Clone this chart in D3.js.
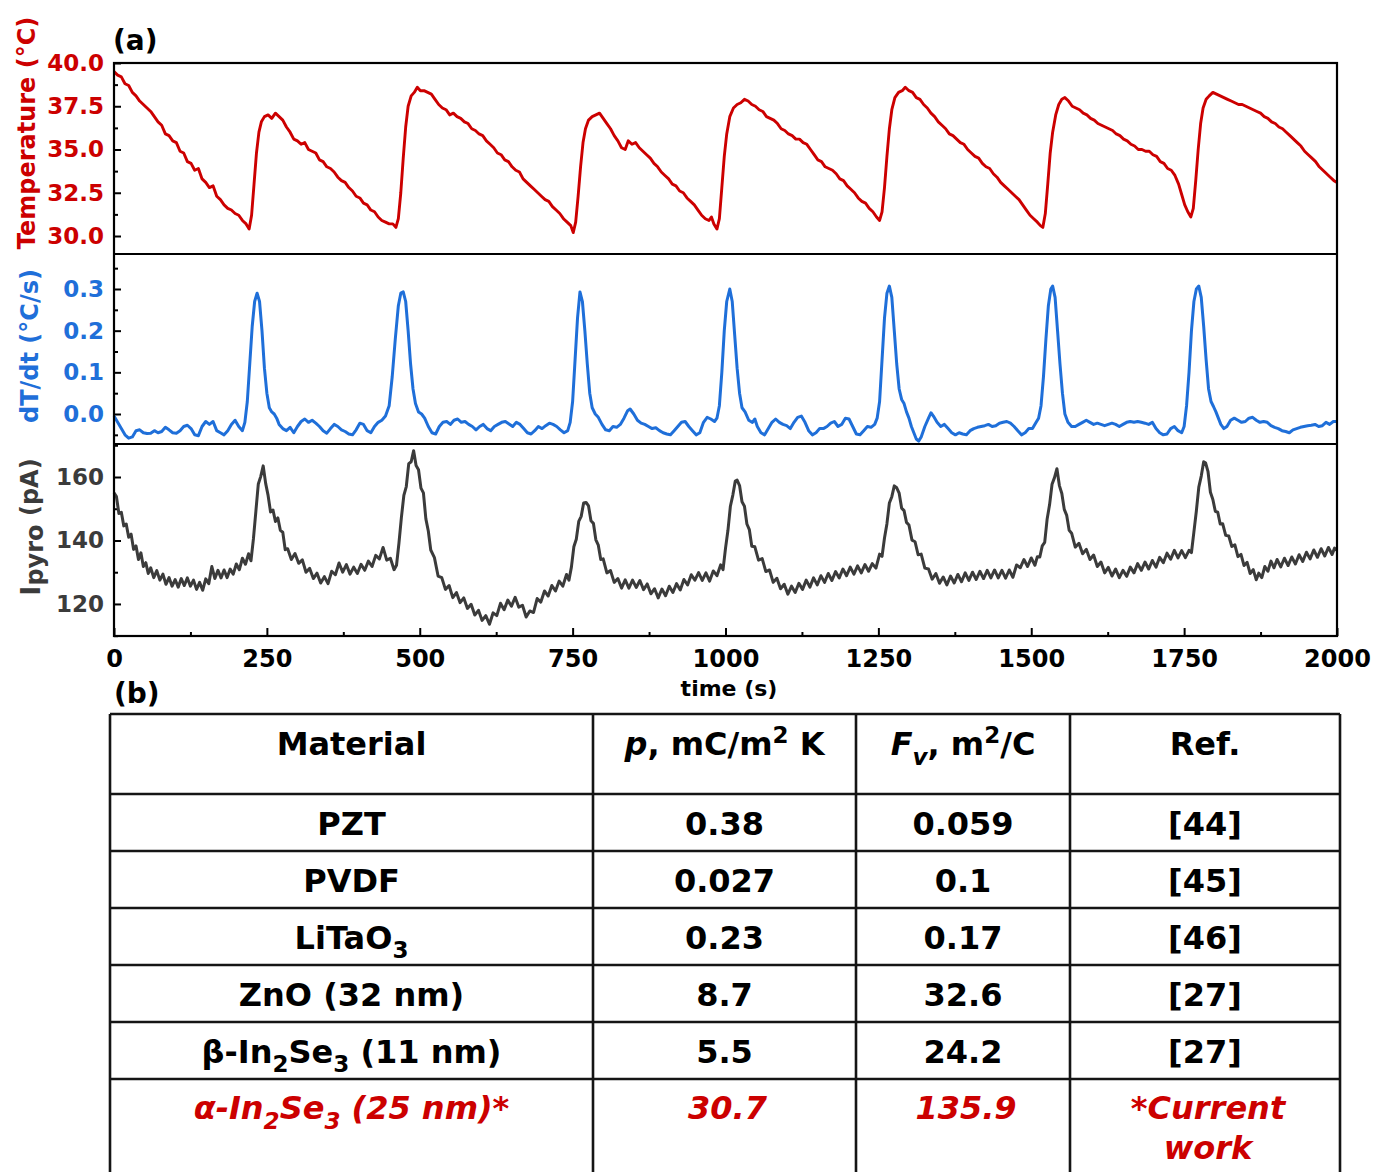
<!DOCTYPE html>
<html>
<head>
<meta charset="utf-8">
<script src="https://cdn.jsdelivr.net/npm/d3@7"></script>
<style>
  body { margin: 0; background: #fff; }
  svg text { font-family: 'DejaVu Sans', sans-serif; font-weight: bold; }
</style>
</head>
<body>
<div id="chart"></div>
<script>
// ---- data ----
const timeTicks = [0, 250, 500, 750, 1000, 1250, 1500, 1750, 2000];
const tempTicks = [30, 32.5, 35, 37.5, 40];
const rateTicks = [0, 0.1, 0.2, 0.3];
const currentTicks = [120, 140, 160];

// temperature (°C) vs time (s)
const tempSeries = [[0,39.5],[6,39.3],[12,39.2],[18,38.8],[24,38.7],[30,38.3],[36,38.1],[42,37.8],[48,37.6],[54,37.4],[60,37.2],[66,36.9],[72,36.6],[78,36.4],[84,35.9],[90,35.8],[96,35.5],[102,35.4],[108,34.9],[114,34.8],[120,34.3],[126,34.2],[132,33.8],[138,33.9],[144,33.3],[150,33.1],[156,32.8],[162,32.9],[168,32.3],[174,32.1],[180,31.8],[186,31.6],[192,31.5],[198,31.3],[204,31.2],[210,30.9],[216,30.7],[221,30.4],[225,31.2],[229,33.0],[233,34.8],[237,36.0],[241,36.6],[246,36.9],[252,37.0],[258,36.8],[264,37.1],[270,36.9],[276,36.7],[282,36.3],[288,36.0],[294,35.6],[300,35.5],[306,35.3],[312,35.4],[318,35.0],[324,34.9],[330,34.8],[336,34.4],[342,34.3],[348,34.0],[354,33.9],[360,33.7],[366,33.4],[372,33.2],[378,33.1],[384,32.8],[390,32.6],[396,32.3],[402,32.2],[408,31.9],[414,31.8],[420,31.5],[426,31.4],[432,31.1],[438,30.9],[444,30.8],[450,30.7],[456,30.7],[461,30.5],[465,31.0],[469,32.5],[473,34.5],[477,36.3],[481,37.5],[486,38.1],[491,38.3],[496,38.6],[501,38.4],[507,38.4],[513,38.3],[519,38.2],[525,37.9],[531,37.6],[537,37.4],[543,37.3],[549,37.0],[555,37.1],[561,36.9],[567,36.8],[573,36.6],[579,36.5],[585,36.2],[591,36.1],[597,35.9],[603,35.8],[609,35.5],[615,35.3],[621,35.1],[627,34.8],[633,34.7],[639,34.4],[645,34.3],[651,34.0],[657,33.8],[663,33.7],[669,33.3],[675,33.1],[681,32.9],[687,32.7],[693,32.5],[699,32.3],[705,32.1],[711,32.0],[717,31.7],[723,31.5],[729,31.3],[735,31.0],[741,30.8],[747,30.6],[751,30.2],[755,30.8],[759,32.3],[763,34.0],[767,35.4],[771,36.2],[776,36.7],[782,36.9],[788,37.0],[794,37.1],[800,36.8],[806,36.5],[812,36.2],[818,35.8],[824,35.5],[830,35.1],[836,35.0],[841,35.5],[847,35.3],[853,35.4],[859,35.1],[865,34.9],[871,34.7],[877,34.5],[883,34.2],[889,34.0],[895,33.7],[901,33.5],[907,33.3],[913,33.0],[919,32.9],[925,32.6],[931,32.5],[937,32.2],[943,32.0],[949,31.8],[955,31.5],[961,31.2],[967,31.0],[973,30.9],[977,31.1],[981,30.7],[986,30.4],[990,31.0],[994,32.8],[998,34.6],[1002,35.9],[1007,36.9],[1013,37.4],[1019,37.6],[1025,37.7],[1031,37.9],[1037,37.8],[1043,37.6],[1049,37.5],[1055,37.3],[1061,37.2],[1067,36.9],[1073,36.8],[1079,36.7],[1085,36.5],[1091,36.2],[1097,36.1],[1103,35.9],[1109,35.8],[1115,35.6],[1121,35.6],[1127,35.4],[1133,35.3],[1139,35.0],[1145,34.7],[1151,34.4],[1157,34.3],[1163,34.0],[1169,33.9],[1175,33.8],[1181,33.6],[1187,33.3],[1193,33.2],[1199,32.9],[1205,32.7],[1211,32.5],[1217,32.2],[1223,32.0],[1229,31.9],[1235,31.6],[1241,31.4],[1247,31.1],[1252,30.9],[1256,31.4],[1260,32.8],[1264,34.6],[1268,36.2],[1272,37.3],[1277,38.0],[1283,38.3],[1289,38.4],[1294,38.6],[1300,38.4],[1306,38.3],[1312,38.0],[1318,37.9],[1324,37.6],[1330,37.4],[1336,37.1],[1342,36.9],[1348,36.6],[1354,36.4],[1360,36.2],[1366,35.9],[1372,35.8],[1378,35.6],[1384,35.4],[1390,35.3],[1396,35.0],[1402,34.8],[1408,34.6],[1414,34.5],[1420,34.2],[1426,34.0],[1432,33.9],[1438,33.6],[1444,33.4],[1450,33.1],[1456,32.9],[1462,32.7],[1468,32.5],[1474,32.3],[1480,32.1],[1486,31.8],[1492,31.5],[1498,31.2],[1504,31.0],[1510,30.8],[1515,30.6],[1519,30.5],[1523,31.3],[1527,33.0],[1531,34.8],[1535,36.0],[1540,37.0],[1545,37.6],[1550,37.9],[1555,38.0],[1561,37.8],[1567,37.5],[1573,37.4],[1579,37.3],[1585,37.1],[1591,37.0],[1597,36.8],[1603,36.7],[1609,36.5],[1615,36.4],[1621,36.3],[1627,36.2],[1633,36.1],[1639,35.9],[1645,35.8],[1651,35.6],[1657,35.5],[1663,35.3],[1669,35.2],[1675,35.0],[1681,35.0],[1687,34.9],[1693,34.9],[1699,34.7],[1705,34.6],[1711,34.3],[1717,34.2],[1723,33.9],[1729,33.8],[1735,33.5],[1741,33.0],[1746,32.4],[1751,31.8],[1756,31.4],[1761,31.1],[1765,31.6],[1769,33.2],[1773,35.0],[1777,36.5],[1781,37.4],[1786,37.9],[1791,38.1],[1797,38.3],[1803,38.2],[1809,38.1],[1815,38.0],[1821,37.9],[1827,37.8],[1833,37.7],[1839,37.6],[1845,37.6],[1851,37.5],[1857,37.4],[1863,37.3],[1869,37.2],[1875,37.1],[1881,36.9],[1887,36.8],[1893,36.6],[1899,36.5],[1905,36.3],[1911,36.2],[1917,36.0],[1923,35.8],[1929,35.6],[1935,35.4],[1941,35.2],[1947,34.9],[1953,34.7],[1959,34.5],[1965,34.3],[1971,34.0],[1977,33.8],[1983,33.6],[1989,33.4],[1995,33.2],[2000,33.1]];

// dT/dt (°C/s) vs time (s)
const rateSeries = [[0,-0.005],[6,-0.02],[12,-0.035],[18,-0.05],[24,-0.058],[30,-0.055],[36,-0.04],[42,-0.038],[48,-0.045],[54,-0.047],[60,-0.046],[66,-0.04],[72,-0.045],[78,-0.042],[84,-0.032],[90,-0.038],[96,-0.045],[102,-0.046],[108,-0.04],[114,-0.03],[120,-0.027],[126,-0.035],[132,-0.05],[138,-0.052],[144,-0.03],[150,-0.018],[156,-0.025],[162,-0.018],[168,-0.04],[174,-0.045],[180,-0.05],[186,-0.04],[192,-0.025],[198,-0.015],[204,-0.03],[210,-0.04],[214,-0.02],[218,0.03],[222,0.12],[226,0.21],[230,0.27],[234,0.29],[238,0.27],[242,0.2],[246,0.11],[250,0.05],[254,0.015],[258,0.005],[262,0.0],[266,-0.01],[270,-0.025],[276,-0.035],[282,-0.04],[288,-0.032],[294,-0.045],[300,-0.03],[306,-0.018],[312,-0.012],[318,-0.02],[324,-0.015],[330,-0.022],[336,-0.03],[342,-0.04],[348,-0.046],[354,-0.035],[360,-0.025],[366,-0.03],[372,-0.038],[378,-0.042],[384,-0.048],[390,-0.05],[396,-0.038],[402,-0.022],[408,-0.025],[414,-0.04],[420,-0.045],[426,-0.03],[432,-0.02],[438,-0.015],[444,-0.005],[450,0.02],[455,0.09],[460,0.18],[465,0.26],[469,0.29],[473,0.293],[477,0.27],[481,0.2],[485,0.12],[489,0.06],[493,0.025],[498,0.005],[503,0.0],[508,-0.01],[514,-0.03],[520,-0.045],[526,-0.048],[532,-0.03],[538,-0.02],[544,-0.018],[550,-0.025],[556,-0.015],[562,-0.012],[568,-0.02],[574,-0.018],[580,-0.025],[586,-0.03],[592,-0.038],[598,-0.03],[604,-0.025],[610,-0.035],[616,-0.04],[622,-0.03],[628,-0.025],[634,-0.02],[640,-0.018],[646,-0.024],[652,-0.03],[658,-0.02],[664,-0.025],[670,-0.035],[676,-0.045],[682,-0.048],[688,-0.04],[694,-0.03],[700,-0.035],[706,-0.028],[712,-0.022],[718,-0.025],[724,-0.03],[730,-0.038],[736,-0.045],[742,-0.04],[746,-0.02],[750,0.03],[754,0.13],[758,0.23],[762,0.293],[766,0.27],[770,0.2],[774,0.12],[778,0.05],[782,0.015],[787,0.0],[792,-0.008],[798,-0.025],[804,-0.038],[810,-0.04],[816,-0.03],[822,-0.032],[828,-0.025],[834,-0.01],[840,0.008],[844,0.012],[850,0.0],[856,-0.015],[862,-0.022],[868,-0.025],[874,-0.03],[880,-0.035],[886,-0.033],[892,-0.04],[898,-0.045],[904,-0.048],[910,-0.05],[916,-0.04],[922,-0.03],[928,-0.02],[934,-0.018],[940,-0.03],[946,-0.04],[952,-0.05],[958,-0.045],[964,-0.02],[970,-0.008],[976,-0.012],[982,-0.018],[986,-0.01],[990,0.02],[994,0.1],[998,0.2],[1002,0.27],[1007,0.30],[1011,0.27],[1015,0.19],[1019,0.11],[1023,0.05],[1027,0.015],[1032,0.005],[1038,-0.015],[1044,-0.02],[1048,-0.012],[1052,-0.03],[1058,-0.045],[1064,-0.05],[1070,-0.035],[1076,-0.02],[1082,-0.012],[1088,-0.02],[1094,-0.025],[1100,-0.028],[1106,-0.035],[1112,-0.02],[1118,-0.008],[1124,-0.005],[1130,-0.02],[1136,-0.04],[1142,-0.05],[1148,-0.045],[1154,-0.035],[1160,-0.035],[1166,-0.03],[1172,-0.022],[1178,-0.018],[1184,-0.03],[1190,-0.025],[1196,-0.01],[1202,-0.012],[1208,-0.03],[1214,-0.048],[1220,-0.05],[1226,-0.04],[1232,-0.03],[1238,-0.032],[1244,-0.025],[1248,-0.01],[1252,0.03],[1256,0.13],[1260,0.23],[1264,0.29],[1268,0.307],[1272,0.28],[1276,0.2],[1280,0.12],[1284,0.06],[1288,0.035],[1292,0.025],[1296,0.005],[1300,-0.01],[1304,-0.03],[1308,-0.045],[1312,-0.06],[1316,-0.065],[1320,-0.055],[1326,-0.03],[1332,-0.01],[1336,0.003],[1340,-0.005],[1346,-0.02],[1352,-0.03],[1358,-0.025],[1364,-0.035],[1370,-0.045],[1376,-0.05],[1382,-0.045],[1388,-0.048],[1394,-0.05],[1400,-0.04],[1406,-0.035],[1412,-0.032],[1418,-0.03],[1424,-0.028],[1430,-0.025],[1436,-0.03],[1442,-0.028],[1448,-0.022],[1454,-0.02],[1460,-0.018],[1466,-0.022],[1472,-0.03],[1478,-0.04],[1484,-0.05],[1490,-0.045],[1496,-0.035],[1502,-0.035],[1508,-0.02],[1512,-0.01],[1516,0.02],[1520,0.09],[1524,0.18],[1528,0.26],[1532,0.3],[1535,0.307],[1539,0.28],[1543,0.2],[1547,0.12],[1551,0.05],[1555,0.0],[1560,-0.02],[1566,-0.03],[1572,-0.03],[1578,-0.025],[1584,-0.02],[1590,-0.015],[1596,-0.02],[1602,-0.025],[1608,-0.022],[1614,-0.025],[1620,-0.028],[1626,-0.025],[1632,-0.022],[1638,-0.025],[1644,-0.03],[1650,-0.025],[1656,-0.02],[1662,-0.018],[1668,-0.02],[1674,-0.018],[1680,-0.02],[1686,-0.022],[1692,-0.025],[1698,-0.02],[1704,-0.035],[1710,-0.045],[1716,-0.05],[1722,-0.048],[1728,-0.035],[1734,-0.03],[1740,-0.04],[1746,-0.045],[1750,-0.03],[1754,0.02],[1758,0.1],[1762,0.2],[1766,0.27],[1770,0.3],[1774,0.307],[1778,0.28],[1782,0.21],[1786,0.13],[1790,0.06],[1794,0.03],[1798,0.018],[1802,0.005],[1806,-0.01],[1810,-0.025],[1815,-0.035],[1820,-0.03],[1826,-0.015],[1832,-0.01],[1838,-0.015],[1844,-0.02],[1850,-0.018],[1856,-0.01],[1862,-0.008],[1868,-0.015],[1874,-0.02],[1880,-0.018],[1886,-0.02],[1892,-0.028],[1898,-0.032],[1904,-0.035],[1910,-0.04],[1916,-0.042],[1922,-0.045],[1928,-0.038],[1934,-0.035],[1940,-0.032],[1946,-0.03],[1952,-0.028],[1958,-0.027],[1964,-0.025],[1970,-0.03],[1976,-0.028],[1982,-0.02],[1988,-0.025],[1994,-0.018],[2000,-0.018]];

// pyroelectric current (pA) vs time (s)
const currentSeries = [[0,155.0],[4,153.8],[8,148.5],[12,148.9],[16,144.6],[20,145.2],[24,141.0],[28,142.0],[32,137.2],[36,138.3],[40,134.0],[44,136.1],[48,131.8],[52,133.0],[56,129.6],[60,131.4],[65,128.3],[70,130.5],[75,127.5],[80,129.4],[85,126.2],[90,128.3],[95,125.6],[100,127.7],[105,125.3],[110,128.0],[115,125.8],[120,128.2],[125,125.6],[130,127.5],[135,124.6],[140,126.8],[145,124.3],[150,127.9],[155,126.4],[160,131.8],[165,128.0],[170,130.6],[175,128.2],[180,130.7],[185,128.3],[190,131.0],[195,129.4],[200,132.6],[205,130.8],[210,134.4],[215,132.5],[220,135.8],[224,133.6],[228,140.5],[232,149.2],[236,157.8],[240,160.2],[244,163.5],[248,158.0],[252,154.2],[256,149.0],[260,149.6],[264,146.0],[268,147.1],[272,143.2],[276,142.6],[280,137.1],[284,137.4],[290,134.0],[296,135.9],[302,132.8],[308,133.9],[314,130.0],[320,131.2],[326,128.0],[332,129.7],[338,126.6],[344,128.6],[350,126.4],[356,130.3],[362,129.2],[368,132.9],[374,130.0],[380,132.4],[386,129.4],[392,131.6],[398,129.6],[404,132.5],[410,130.6],[416,133.5],[422,131.8],[428,135.3],[434,134.2],[440,137.8],[446,133.8],[452,134.4],[458,130.8],[462,132.2],[466,139.2],[470,147.3],[474,154.2],[478,157.0],[482,164.2],[486,164.8],[490,168.3],[494,163.6],[498,162.3],[502,156.5],[506,155.0],[510,146.8],[514,143.0],[518,137.0],[524,134.6],[530,128.8],[536,128.3],[542,124.6],[548,125.8],[554,122.0],[560,123.6],[566,120.4],[572,121.9],[578,118.6],[584,119.9],[590,116.5],[596,118.0],[602,114.8],[608,116.3],[614,113.6],[620,117.2],[626,116.3],[632,120.2],[638,118.2],[644,121.2],[650,119.3],[656,122.1],[662,119.0],[668,119.6],[674,115.9],[680,117.8],[686,117.3],[692,121.7],[698,120.6],[704,124.1],[710,122.5],[716,125.8],[722,124.1],[728,127.2],[734,125.6],[740,129.3],[744,127.5],[748,131.6],[752,138.0],[756,140.4],[760,146.0],[764,147.6],[768,151.8],[772,152.0],[776,150.9],[780,146.2],[784,145.4],[788,140.2],[792,138.5],[796,134.0],[800,134.2],[806,129.8],[812,130.5],[818,126.8],[824,128.0],[830,125.0],[836,127.6],[842,125.0],[848,127.5],[854,125.2],[860,127.4],[866,124.5],[872,126.3],[878,123.2],[884,124.8],[890,121.9],[896,124.7],[902,122.6],[908,125.6],[914,123.6],[920,126.4],[926,124.4],[932,127.7],[938,126.0],[944,129.2],[950,127.5],[956,129.9],[962,127.4],[968,129.8],[974,127.2],[980,130.4],[986,128.9],[992,132.3],[996,130.8],[1000,137.5],[1004,143.2],[1008,150.8],[1012,154.3],[1016,158.7],[1019,159.0],[1023,157.3],[1027,152.2],[1031,150.8],[1035,145.2],[1039,143.4],[1043,138.2],[1048,138.0],[1054,133.8],[1060,134.3],[1066,130.2],[1072,130.7],[1078,126.8],[1084,128.1],[1090,124.8],[1096,126.2],[1102,123.1],[1108,125.6],[1114,123.6],[1120,126.5],[1126,124.6],[1132,127.5],[1138,125.3],[1144,128.2],[1150,126.0],[1156,128.9],[1162,126.8],[1168,129.6],[1174,127.4],[1180,130.2],[1186,128.2],[1192,131.0],[1198,128.9],[1204,131.6],[1210,129.4],[1216,132.0],[1222,129.8],[1228,132.4],[1234,130.3],[1240,132.7],[1246,131.3],[1252,135.7],[1256,135.0],[1260,140.8],[1264,145.3],[1268,151.8],[1272,153.8],[1276,157.2],[1280,156.6],[1284,154.9],[1288,150.2],[1292,149.4],[1296,145.7],[1300,144.9],[1305,140.1],[1310,139.6],[1315,135.5],[1320,135.7],[1326,131.3],[1332,131.0],[1338,127.8],[1344,129.6],[1350,126.5],[1356,128.5],[1362,126.0],[1368,128.8],[1374,126.6],[1380,129.3],[1386,127.0],[1392,129.8],[1398,127.4],[1404,130.0],[1410,127.7],[1416,130.3],[1422,128.0],[1428,130.6],[1434,128.2],[1440,130.7],[1446,128.2],[1452,130.6],[1458,128.1],[1464,130.7],[1470,128.4],[1476,132.3],[1482,131.4],[1488,134.0],[1494,131.8],[1500,134.5],[1506,132.2],[1510,134.9],[1514,134.8],[1518,138.3],[1522,139.4],[1526,146.8],[1530,151.3],[1534,157.7],[1538,159.8],[1542,162.6],[1546,157.3],[1550,154.8],[1554,149.8],[1558,147.9],[1562,143.2],[1566,142.3],[1572,137.9],[1578,139.1],[1584,135.8],[1590,137.2],[1596,134.0],[1602,135.4],[1608,131.8],[1614,133.2],[1620,129.8],[1626,131.5],[1632,128.8],[1638,131.0],[1644,128.3],[1650,130.6],[1656,128.7],[1662,131.6],[1668,129.8],[1674,132.7],[1680,130.6],[1686,133.2],[1692,131.0],[1698,133.7],[1704,131.6],[1710,134.7],[1716,133.0],[1722,136.0],[1728,134.1],[1734,136.9],[1740,134.5],[1746,136.8],[1752,134.6],[1758,136.9],[1762,136.2],[1766,142.7],[1770,149.3],[1774,156.8],[1778,160.3],[1782,164.8],[1785,164.5],[1789,161.8],[1793,155.2],[1797,152.9],[1801,149.2],[1805,148.9],[1809,145.2],[1813,145.3],[1818,141.6],[1823,141.4],[1828,138.1],[1833,138.6],[1838,134.9],[1843,135.6],[1848,132.1],[1853,133.1],[1858,129.6],[1863,130.8],[1868,127.6],[1872,129.7],[1877,128.3],[1882,131.8],[1887,130.3],[1892,133.5],[1897,131.4],[1902,134.0],[1908,131.7],[1914,134.4],[1920,132.1],[1926,134.8],[1932,132.6],[1938,135.5],[1944,133.4],[1950,136.3],[1956,134.2],[1962,137.0],[1968,134.7],[1974,137.4],[1980,135.1],[1986,137.8],[1992,135.6],[1996,137.6],[2000,136.9]];

// table (b): ~ toggles italics, _x subscript, ^x superscript, | line break
const tableHeader = ['Material', '~p~, mC/m^2 K', '~F_v~, m^2/C', 'Ref.'];
const materials = ['PZT', 'PVDF', 'LiTaO_3', 'ZnO (32 nm)', 'β-In_2Se_3 (11 nm)', 'α-In_2Se_3 (25 nm)*'];
const pyroCoeff = ['0.38', '0.027', '0.23', '8.7', '5.5', '30.7'];
const fomFv = ['0.059', '0.1', '0.17', '32.6', '24.2', '135.9'];
const refs = ['[44]', '[45]', '[46]', '[27]', '[27]', '*Current|work'];

// ---- layout ----
const W = 1377, H = 1172;
const RED = '#cc0000', BLUE = '#1f6fd9', GRAY = '#3b3b3b';

const svg = d3.select('#chart').append('svg')
    .attr('width', W).attr('height', H)
    .style('background', '#fff');

const x = d3.scaleLinear().domain([0, 2000]).range([114, 1337]);

const panels = [
    {data: tempSeries, top: 63, bottom: 254, domain: [28.96, 40], ticks: tempTicks, minor: [31.25, 33.75, 36.25, 38.75],
     fmt: d3.format('.1f'), color: RED, width: 2.9, title: 'Temperature (°C)', titleY: 133},
    {data: rateSeries, top: 254, bottom: 444, domain: [-0.072, 0.384], ticks: rateTicks, minor: [-0.05, 0.05, 0.15, 0.25, 0.35],
     fmt: d3.format('.1f'), color: BLUE, width: 3, title: 'dT/dt (°C/s)', titleY: 346},
    {data: currentSeries, top: 444, bottom: 636, domain: [109.9, 170.4], ticks: currentTicks, minor: [110, 130, 150, 170],
     fmt: d3.format('d'), color: GRAY, width: 3, title: null, titleY: 527}
];

panels.forEach(p => {
    const y = d3.scaleLinear().domain(p.domain).range([p.bottom, p.top]);

    const major = svg.append('g')
        .attr('transform', `translate(${x(0)},0)`)
        .call(d3.axisLeft(y).tickValues(p.ticks).tickFormat(p.fmt).tickSizeInner(-7).tickSizeOuter(0).tickPadding(10));
    major.select('.domain').remove();
    major.selectAll('line').attr('stroke', '#000').attr('stroke-width', 2);
    major.selectAll('text').attr('font-size', 23).attr('fill', p.color)
        .attr('font-family', "'DejaVu Sans', sans-serif").attr('font-weight', 'bold');

    const minor = svg.append('g')
        .attr('transform', `translate(${x(0)},0)`)
        .call(d3.axisLeft(y).tickValues(p.minor).tickFormat('').tickSizeInner(-4).tickSizeOuter(0));
    minor.select('.domain').remove();
    minor.selectAll('line').attr('stroke', '#000').attr('stroke-width', 2);

    const line = d3.line().x(d => x(d[0])).y(d => y(d[1]));
    svg.append('path')
        .datum(p.data)
        .attr('d', line)
        .attr('fill', 'none')
        .attr('stroke', p.color)
        .attr('stroke-width', p.width)
        .attr('stroke-linejoin', 'round');

    // axis title
    const t = svg.append('text')
        .attr('transform', `translate(${p === panels[0] ? 27 : 30},${p.titleY}) rotate(-90)`)
        .attr('text-anchor', 'middle')
        .attr('dominant-baseline', 'central')
        .attr('font-size', 24)
        .attr('fill', p.color);
    if (p.title) {
        t.text(p.title);
    } else {
        t.append('tspan').attr('font-size', 27).text('I');
        t.append('tspan').attr('dy', 5).text('pyro');
        t.append('tspan').attr('dy', -5).text(' (pA)');
    }
});

// frame and panel separators
svg.append('rect')
    .attr('x', x(0)).attr('y', 63)
    .attr('width', x(2000) - x(0)).attr('height', 636 - 63)
    .attr('fill', 'none').attr('stroke', '#000').attr('stroke-width', 2.2);
[254, 444].forEach(yy => {
    svg.append('line').attr('x1', x(0)).attr('x2', x(2000)).attr('y1', yy).attr('y2', yy)
        .attr('stroke', '#000').attr('stroke-width', 2.2);
});

// shared time axis
const xAxis = svg.append('g')
    .attr('transform', 'translate(0,636)')
    .call(d3.axisBottom(x).tickValues(timeTicks).tickFormat(d3.format('d')).tickSizeInner(-8).tickSizeOuter(0).tickPadding(14));
xAxis.select('.domain').remove();
xAxis.selectAll('line').attr('stroke', '#000').attr('stroke-width', 2);
xAxis.selectAll('text').attr('font-size', 24).attr('fill', '#000')
    .attr('font-family', "'DejaVu Sans', sans-serif").attr('font-weight', 'bold');

const xMinor = svg.append('g')
    .attr('transform', 'translate(0,636)')
    .call(d3.axisBottom(x).tickValues(timeTicks.slice(1).map(v => v - 125)).tickFormat('').tickSizeInner(-4).tickSizeOuter(0));
xMinor.select('.domain').remove();
xMinor.selectAll('line').attr('stroke', '#000').attr('stroke-width', 2);

svg.append('text').attr('x', 729).attr('y', 696).attr('text-anchor', 'middle')
    .attr('font-size', 22).text('time (s)');

svg.append('text').attr('x', 113).attr('y', 50).attr('font-size', 28).text('(a)');
svg.append('text').attr('x', 114).attr('y', 703).attr('font-size', 28).text('(b)');

// ---- table (b) ----
function segments(str) {
    const out = [];
    let italic = false;
    for (let i = 0; i < str.length; i++) {
        const c = str[i];
        if (c === '~') { italic = !italic; continue; }
        if (c === '_' || c === '^') {
            out.push({t: str[++i], it: italic, pos: c === '_' ? 'sub' : 'sup'});
            continue;
        }
        const last = out[out.length - 1];
        if (last && last.pos === 'base' && last.it === italic) last.t += c;
        else out.push({t: c, it: italic, pos: 'base'});
    }
    return out;
}

function richText(textSel, str, size) {
    let cur = 0;
    segments(str).forEach(s => {
        const off = s.pos === 'sub' ? size * 0.3 : s.pos === 'sup' ? -size * 0.38 : 0;
        textSel.append('tspan')
            .attr('dy', off - cur)
            .attr('font-size', s.pos === 'base' ? size : size * 0.72)
            .attr('font-style', s.it ? 'italic' : null)
            .text(s.t);
        cur = off;
    });
}

const colEdges = [110, 593, 856, 1070, 1340];
const rowEdges = [714, 794, 851, 908, 965, 1022, 1079, 1185];
const colCenters = d3.range(4).map(i => (colEdges[i] + colEdges[i + 1]) / 2);
const FS = 32;

const table = svg.append('g');
rowEdges.forEach(yy => {
    table.append('line').attr('x1', colEdges[0]).attr('x2', colEdges[4]).attr('y1', yy).attr('y2', yy)
        .attr('stroke', '#151515').attr('stroke-width', 2.6);
});
colEdges.forEach(xx => {
    table.append('line').attr('x1', xx).attr('x2', xx).attr('y1', rowEdges[0]).attr('y2', rowEdges[rowEdges.length - 1])
        .attr('stroke', '#151515').attr('stroke-width', 2.6);
});

tableHeader.forEach((h, i) => {
    const t = table.append('text').attr('x', colCenters[i]).attr('y', 755)
        .attr('text-anchor', 'middle').attr('font-size', FS).attr('fill', '#000');
    richText(t, h, FS);
});

const rows = materials.map((m, i) => [m, pyroCoeff[i], fomFv[i], refs[i]]);
rows.forEach((row, r) => {
    const last = r === rows.length - 1;
    const baseline = last ? rowEdges[r + 1] + 40 : (rowEdges[r + 1] + rowEdges[r + 2]) / 2 + 12;
    row.forEach((cell, c) => {
        cell.split('|').forEach((part, k) => {
            const t = table.append('text')
                .attr('x', colCenters[c] + (last && c > 0 ? 3 : 0))
                .attr('y', baseline + k * 40)
                .attr('text-anchor', 'middle')
                .attr('font-size', FS)
                .attr('font-style', last ? 'italic' : null)
                .attr('fill', last ? RED : '#000');
            richText(t, part, FS);
        });
    });
});
</script>
</body>
</html>
